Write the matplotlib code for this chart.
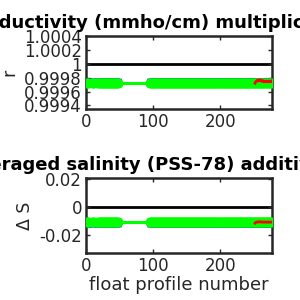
import numpy as np
import matplotlib
matplotlib.use("Agg")
import matplotlib.pyplot as plt

# ---- data ----
prof_a = list(range(1, 5)) + list(range(9, 13)) + list(range(17, 49))
prof_b = list(range(95, 278))
profiles = prof_a + prof_b

r_level_a = 0.99973
r_level_b = 0.99973
r_fit = [r_level_a] * len(prof_a) + [r_level_b] * len(prof_b)
r_err = 0.00005

ds_level_a = -0.0108
ds_level_b = -0.0108
ds_fit = [ds_level_a] * len(prof_a) + [ds_level_b] * len(prof_b)
ds_err = 0.0025

red_prof = list(range(252, 278))
r_red = [0.99972, 0.99974, 0.99975, 0.99976, 0.99976, 0.99975, 0.99976, 0.99977,
         0.99976, 0.99975, 0.99975, 0.99976, 0.99975, 0.99974, 0.99975, 0.99975,
         0.99974, 0.99975, 0.99974, 0.99975, 0.99975, 0.99974, 0.99975, 0.99975,
         0.99974, 0.99975]
ds_red = [-0.0113, -0.0108, -0.0106, -0.0104, -0.0104, -0.0105, -0.0104, -0.0102,
          -0.0104, -0.0105, -0.0105, -0.0104, -0.0105, -0.0106, -0.0105, -0.0105,
          -0.0106, -0.0105, -0.0106, -0.0105, -0.0105, -0.0106, -0.0105, -0.0105,
          -0.0106, -0.0105]

top_yticks = [0.9994, 0.9996, 0.9998, 1.0, 1.0002, 1.0004]
top_yticklabels = ['0.9994', '0.9996', '0.9998', '1', '1.0002', '1.0004']
bot_yticks = [-0.02, 0, 0.02]
bot_yticklabels = ['-0.02', '0', '0.02']
xticks = [0, 100, 200]

title_top = 'Potential conductivity (mmho/cm) multiplicative correction r'
title_bot = 'Vertically averaged salinity (PSS-78) additive correction \u0394 S'

# ---- plotting ----
plt.rcParams['font.family'] = ['DejaVu Sans']
fig = plt.figure(figsize=(3, 3), dpi=100)
ax1 = fig.add_axes([0.287, 0.637, 0.619, 0.243])
ax2 = fig.add_axes([0.287, 0.157, 0.619, 0.250])

dark = '#262626'

def draw(ax, ref, fit, err, red, ylim, yticks, yticklabels, ylabel, title, tx):
    ax.axhline(ref, color='black', lw=2, zorder=1)
    ax.errorbar(profiles, fit, yerr=err, fmt='none', ecolor='blue', elinewidth=1,
                capsize=2, capthick=1, zorder=2)
    ax.plot(profiles, fit, '-o', color='#00ff00', lw=2.2, ms=6, mec='#00ff00', zorder=3)
    ax.plot(red_prof, red, '-', color='red', lw=2, zorder=4)
    ax.set_xlim(0, 277)
    ax.set_ylim(*ylim)
    ax.set_yticks(yticks)
    ax.set_yticklabels(yticklabels)
    ax.set_xticks(xticks)
    ax.tick_params(direction='in', length=3, width=1, colors=dark, labelsize=12,
                   top=True, right=True, pad=3)
    for s in ax.spines.values():
        s.set_linewidth(1.8)
        s.set_color(dark)
    ax.set_ylabel(ylabel, fontsize=12.5, color=dark, labelpad=4)
    ax.set_title(title, fontsize=13, fontweight='bold', color='black', pad=6, x=tx)

draw(ax1, 1.0, r_fit, r_err, r_red, (0.99935, 1.00039), top_yticks, top_yticklabels,
     'r', title_top, 0.46)
draw(ax2, 0.0, ds_fit, ds_err, ds_red, (-0.0325, 0.021), bot_yticks, bot_yticklabels,
     '\u0394 S', title_bot, 0.44)
ax2.set_xlabel('float profile number', fontsize=13, color=dark, labelpad=1)

fig.savefig('out.png', dpi=100)
